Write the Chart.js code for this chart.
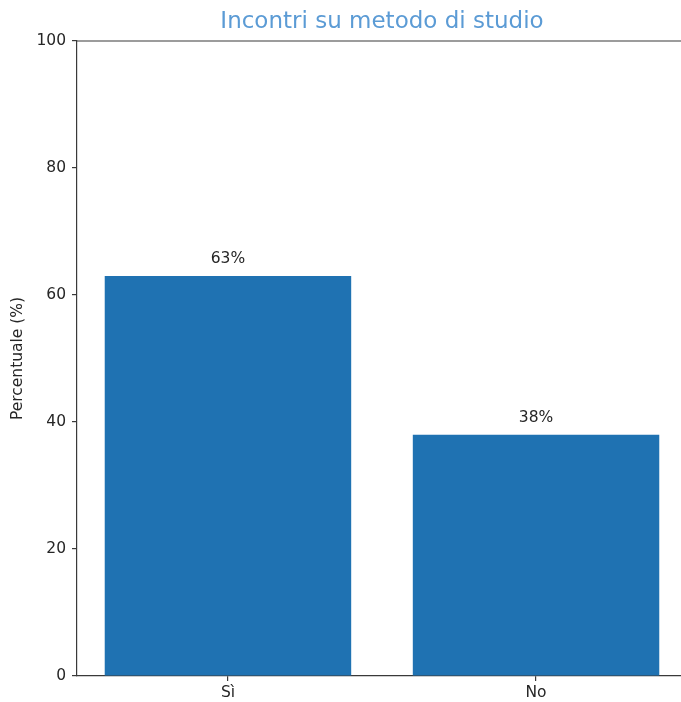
<!DOCTYPE html>
<html><head><meta charset="utf-8">
<script src="https://cdn.jsdelivr.net/npm/chart.js@4/dist/chart.umd.min.js"></script>
<style>html,body{margin:0;padding:0;background:#fff;overflow:hidden;width:681px;height:702px}canvas{display:block}</style>
</head><body>
<canvas id="c" width="690" height="702"></canvas>
<script>
const categories = ['Sì', 'No'];
const percentValues = [63, 38];
const valueLabels = ['63%', '38%'];
const yTickValues = [0, 20, 40, 60, 80, 100];
const chartTitle = 'Incontri su metodo di studio';
const yAxisTitle = 'Percentuale (%)';

const FONT = "'DejaVu Sans', sans-serif";
const AXIS_COLOR = '#3a3a3a';
const TEXT_COLOR = '#262626';
const FS = 15.5;

const overlay = {
  id: 'overlay',
  afterDraw(chart) {
    const ctx = chart.ctx;
    const a = chart.chartArea;
    ctx.save();
    // top spine
    ctx.strokeStyle = AXIS_COLOR;
    ctx.lineWidth = 1.2;
    ctx.beginPath();
    ctx.moveTo(a.left, a.top);
    ctx.lineTo(a.right, a.top);
    ctx.stroke();
    // title
    ctx.fillStyle = '#5b9bd5';
    ctx.font = '23px ' + FONT;
    ctx.textAlign = 'center';
    ctx.textBaseline = 'middle';
    ctx.fillText(chartTitle, (a.left + a.right) / 2, 22);
    // y axis title
    ctx.save();
    ctx.translate(18, (a.top + a.bottom) / 2);
    ctx.rotate(-Math.PI / 2);
    ctx.fillStyle = TEXT_COLOR;
    ctx.font = FS + 'px ' + FONT;
    ctx.fillText(yAxisTitle, 0, 0);
    ctx.restore();
    // value labels
    const meta = chart.getDatasetMeta(0);
    ctx.fillStyle = TEXT_COLOR;
    ctx.font = FS + 'px ' + FONT;
    ctx.textBaseline = 'alphabetic';
    meta.data.forEach((el, i) => {
      ctx.fillText(valueLabels[i], el.x, el.y - 13);
    });
    ctx.restore();
  }
};

new Chart(document.getElementById('c'), {
  type: 'bar',
  data: {
    datasets: [{
      data: categories.map((c, i) => ({ x: i, y: percentValues[i] })),
      backgroundColor: '#1f72b2',
      borderWidth: 0,
      barPercentage: 0.8,
      categoryPercentage: 1.0
    }]
  },
  options: {
    responsive: false,
    animation: false,
    devicePixelRatio: 1,
    layout: { padding: { top: 41, right: 3, left: 0, bottom: 0 } },
    plugins: { legend: { display: false }, title: { display: false }, tooltip: { enabled: false } },
    scales: {
      x: {
        type: 'linear',
        min: -0.49, max: 1.49,
        offset: false,
        afterBuildTicks(scale) { scale.ticks = categories.map((c, i) => ({ value: i })); },
        grid: { display: true, offset: false, drawOnChartArea: false, drawTicks: true, tickLength: 5, color: AXIS_COLOR, lineWidth: 1.2 },
        border: { display: true, color: AXIS_COLOR, width: 1.2 },
        ticks: { color: TEXT_COLOR, font: { family: FONT, size: FS }, padding: 3, maxRotation: 0, autoSkip: false,
                 callback: (v) => categories[v] },
        afterFit(scale) { scale.height = 26; }
      },
      y: {
        min: 0, max: 100,
        afterBuildTicks(scale) { scale.ticks = yTickValues.map(v => ({ value: v })); },
        grid: { display: true, drawOnChartArea: false, drawTicks: true, tickLength: 5, color: AXIS_COLOR, lineWidth: 1.2 },
        border: { display: true, color: AXIS_COLOR, width: 1.2 },
        ticks: { color: TEXT_COLOR, font: { family: FONT, size: FS }, padding: 6 },
        afterFit(scale) { scale.width = 77; }
      }
    }
  },
  plugins: [overlay]
});
</script>
</body></html>
